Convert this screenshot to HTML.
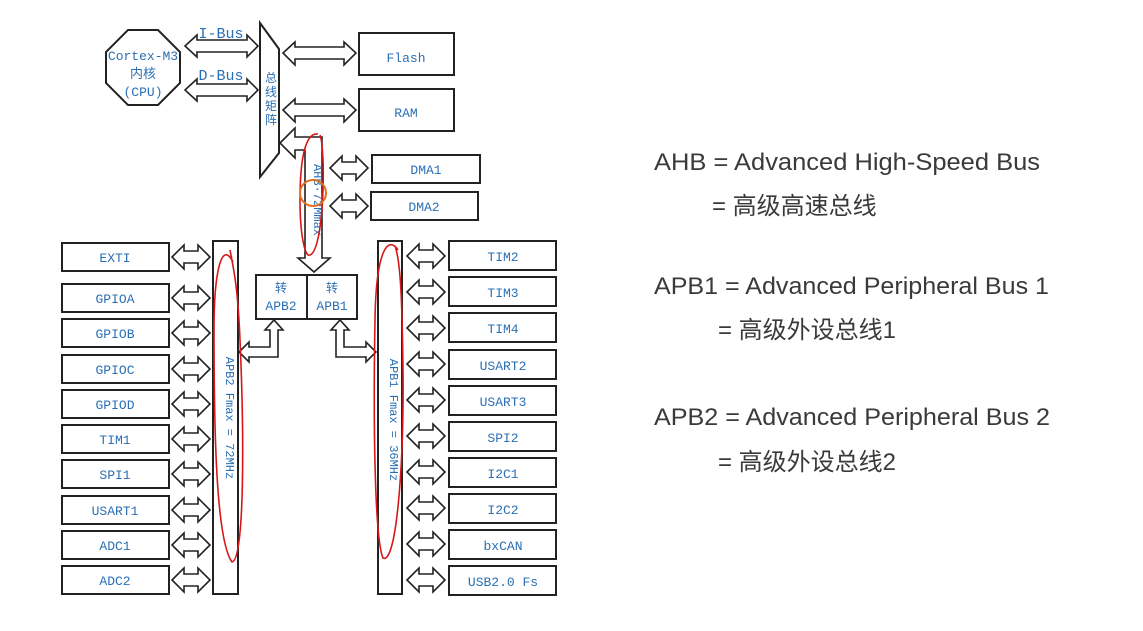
<!DOCTYPE html>
<html><head><meta charset="utf-8"><style>
html,body{margin:0;padding:0;background:#fff;}
svg{display:block}
.b{fill:#fff;stroke:#222;stroke-width:2}
.t{font-family:"Liberation Mono","Noto Sans CJK SC",monospace;font-size:13px;fill:#2a6fb5;text-anchor:middle}
.a{fill:#fff;stroke:#222;stroke-width:1.6;stroke-linejoin:miter}
.r{fill:none;stroke:#d81818;stroke-width:1.6}
.e{font-family:"Liberation Sans","Noto Sans CJK SC",sans-serif;font-size:24px;fill:#3a3a3a}
</style></head><body>
<svg width="1143" height="631" viewBox="0 0 1143 631" xmlns="http://www.w3.org/2000/svg">
<defs>
<polygon id="da" points="0,14 12,2 12,8 26,8 26,2 38,14 26,26 26,20 12,20 12,26" class="a"/>
</defs>
<!-- octagon CPU -->
<polygon class="b" points="128,30 158,30 180,52 180,83 158,105 128,105 106,83 106,52"/>
<text class="t" x="143" y="60">Cortex-M3</text>
<text class="t" x="143" y="78">内核</text>
<text class="t" x="143" y="96">(CPU)</text>
<!-- I-bus / D-bus arrows -->
<polygon class="a" points="185,46 197,35 197,40 247,40 247,35 258,46 247,57 247,52 197,52 197,57"/>
<polygon class="a" points="185,90 197,79 197,84 247,84 247,79 258,90 247,101 247,96 197,96 197,101"/>
<text class="t" x="221" y="38" style="font-size:15px">I-Bus</text>
<text class="t" x="221" y="80" style="font-size:15px">D-Bus</text>
<!-- bus matrix -->
<polygon class="b" points="260,23 279,49 279,153 260,177"/>
<text class="t" x="270" y="100" style="font-size:12px;writing-mode:tb" transform="rotate(0)">
</text>
<text class="t" x="271" y="82" style="font-size:12px">总</text>
<text class="t" x="271" y="96" style="font-size:12px">线</text>
<text class="t" x="271" y="110" style="font-size:12px">矩</text>
<text class="t" x="271" y="124" style="font-size:12px">阵</text>
<!-- flash/ram -->
<polygon class="a" points="283,53 295,42 295,47 344,47 344,42 356,53 344,65 344,59 295,59 295,65"/>
<polygon class="a" points="283,110 295,99 295,104 344,104 344,99 356,110 344,122 344,116 295,116 295,122"/>
<rect class="b" x="359" y="33" width="95" height="42"/>
<text class="t" x="406" y="62">Flash</text>
<rect class="b" x="359" y="89" width="95" height="42"/>
<text class="t" x="406" y="117">RAM</text>
<!-- AHB bus -->
<polygon class="a" points="280,143 295,128 295,137 322,137 322,258 330,258 314,272 298,258 305,258 305,150 295,150 295,158"/>
<text class="t" x="314" y="200" style="font-size:12px" transform="rotate(90 314 200)">AHB·72Mmax</text>
<use href="#da" x="330" y="154"/>
<use href="#da" x="330" y="192"/>
<rect class="b" x="372" y="155" width="108" height="28"/>
<text class="t" x="426" y="174">DMA1</text>
<rect class="b" x="371" y="192" width="107" height="28"/>
<text class="t" x="424" y="211">DMA2</text>
<!-- bridge -->
<rect class="b" x="256" y="275" width="101" height="44"/>
<line x1="307" y1="275" x2="307" y2="319" stroke="#222" stroke-width="2"/>
<text class="t" x="281" y="292" style="font-size:12px">转</text>
<text class="t" x="281" y="310">APB2</text>
<text class="t" x="332" y="292" style="font-size:12px">转</text>
<text class="t" x="332" y="310">APB1</text>
<polygon class="a" points="239,352 249,342 249,347 270,347 270,330 265,330 274,320 283,330 278,330 278,357 249,357 249,362"/>
<polygon class="a" points="376,352 366,342 366,347 344,347 344,330 349,330 340,320 331,330 336,330 336,357 366,357 366,362"/>
<!-- APB2 bar -->
<rect class="b" x="213" y="241" width="25" height="353"/>
<text class="t" x="226" y="418" style="font-size:12px" transform="rotate(90 226 418)">APB2 Fmax = 72MHz</text>
<!-- APB1 bar -->
<rect class="b" x="378" y="241" width="24" height="353"/>
<text class="t" x="390" y="420" style="font-size:12px" transform="rotate(90 390 420)">APB1 Fmax = 36MHz</text>
<!-- left boxes -->
<g>
<rect class="b" x="62" y="243" width="107" height="28"/><text class="t" x="115" y="262">EXTI</text><use href="#da" x="172" y="243"/>
<rect class="b" x="62" y="284" width="107" height="28"/><text class="t" x="115" y="303">GPIOA</text><use href="#da" x="172" y="284"/>
<rect class="b" x="62" y="319" width="107" height="28"/><text class="t" x="115" y="338">GPIOB</text><use href="#da" x="172" y="319"/>
<rect class="b" x="62" y="355" width="107" height="28"/><text class="t" x="115" y="374">GPIOC</text><use href="#da" x="172" y="355"/>
<rect class="b" x="62" y="390" width="107" height="28"/><text class="t" x="115" y="409">GPIOD</text><use href="#da" x="172" y="390"/>
<rect class="b" x="62" y="425" width="107" height="28"/><text class="t" x="115" y="444">TIM1</text><use href="#da" x="172" y="425"/>
<rect class="b" x="62" y="460" width="107" height="28"/><text class="t" x="115" y="479">SPI1</text><use href="#da" x="172" y="460"/>
<rect class="b" x="62" y="496" width="107" height="28"/><text class="t" x="115" y="515">USART1</text><use href="#da" x="172" y="496"/>
<rect class="b" x="62" y="531" width="107" height="28"/><text class="t" x="115" y="550">ADC1</text><use href="#da" x="172" y="531"/>
<rect class="b" x="62" y="566" width="107" height="28"/><text class="t" x="115" y="585">ADC2</text><use href="#da" x="172" y="566"/>
</g>
<!-- right boxes -->
<g>
<rect class="b" x="449" y="241" width="107" height="29"/><text class="t" x="503" y="261">TIM2</text><use href="#da" x="407" y="242"/>
<rect class="b" x="449" y="277" width="107" height="29"/><text class="t" x="503" y="297">TIM3</text><use href="#da" x="407" y="278"/>
<rect class="b" x="449" y="313" width="107" height="29"/><text class="t" x="503" y="333">TIM4</text><use href="#da" x="407" y="314"/>
<rect class="b" x="449" y="350" width="107" height="29"/><text class="t" x="503" y="370">USART2</text><use href="#da" x="407" y="350"/>
<rect class="b" x="449" y="386" width="107" height="29"/><text class="t" x="503" y="406">USART3</text><use href="#da" x="407" y="386"/>
<rect class="b" x="449" y="422" width="107" height="29"/><text class="t" x="503" y="442">SPI2</text><use href="#da" x="407" y="422"/>
<rect class="b" x="449" y="458" width="107" height="29"/><text class="t" x="503" y="478">I2C1</text><use href="#da" x="407" y="458"/>
<rect class="b" x="449" y="494" width="107" height="29"/><text class="t" x="503" y="514">I2C2</text><use href="#da" x="407" y="494"/>
<rect class="b" x="449" y="530" width="107" height="29"/><text class="t" x="503" y="550">bxCAN</text><use href="#da" x="407" y="530"/>
<rect class="b" x="449" y="566" width="107" height="29"/><text class="t" x="503" y="586">USB2.0 Fs</text><use href="#da" x="407" y="566"/>
</g>
<!-- annotations -->
<path class="r" d="M318,134 C305,132 300,160 300,200 C300,235 305,258 310,255 C318,252 322,220 323,190 C324,160 322,140 320,135"/>
<circle cx="313" cy="193" r="13" fill="none" stroke="#e07020" stroke-width="2"/>
<path class="r" d="M233,262 C222,240 214,270 214,330 C214,430 216,540 232,562 C245,560 244,430 240,340 C238,290 234,270 230,250"/>
<path class="r" d="M398,250 C388,235 376,250 375,320 C373,430 375,540 383,558 C396,565 404,470 403,370 C402,290 400,260 395,246"/>
<!-- right text -->
<text class="e" x="654" y="170" textLength="386" lengthAdjust="spacingAndGlyphs">AHB = Advanced High-Speed Bus</text>
<text class="e" x="712" y="214">= 高级高速总线</text>
<text class="e" x="654" y="294" textLength="395" lengthAdjust="spacingAndGlyphs">APB1 = Advanced Peripheral Bus 1</text>
<text class="e" x="718" y="338">= 高级外设总线1</text>
<text class="e" x="654" y="425" textLength="396" lengthAdjust="spacingAndGlyphs">APB2 = Advanced Peripheral Bus 2</text>
<text class="e" x="718" y="470">= 高级外设总线2</text>
</svg>
</body></html>
